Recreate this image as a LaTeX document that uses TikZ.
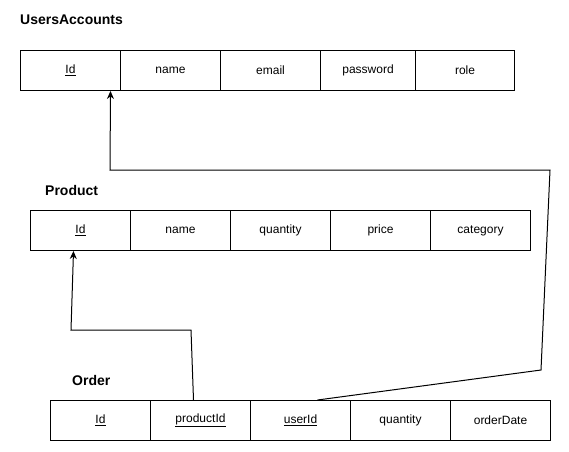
\documentclass[tikz,border=0pt]{standalone}
\usepackage{fontspec}
\setmainfont{Liberation Sans}
\usetikzlibrary{arrows.meta}
\begin{document}
\begin{tikzpicture}
[x=1pt,y=-1pt,
 cell/.style={draw,line width=1pt,minimum height=40pt,inner sep=0pt,
   font=\fontsize{12}{14}\selectfont},
 tabletitle/.style={anchor=west,inner sep=0pt,font=\fontsize{14}{16}\selectfont\bfseries},
 fk/.style={line width=1pt,-{Stealth[length=8pt,width=7pt]}}]
\useasboundingbox (0,0) rectangle (569,451);
\node[tabletitle] (uatitle) at (20,20) {UsersAccounts};
\node[tabletitle] (prtitle) at (45,190) {Product};
\node[tabletitle] (ortitle) at (72,380) {Order};
%% the three tables
\foreach \n/\x/\w/\txt in {1/20/100/\underline{Id}, 2/120/100/name, 3/220/100/email,
  4/320/95/password, 5/415/99/role}
{
  \node[cell,minimum width=\w pt,anchor=north west] (ua\n) at (\x,50) {\txt};
}
\foreach \n/\x/\txt in {1/30/\underline{Id}, 2/130/name, 3/230/quantity,
  4/330/price, 5/430/category}
{
  \node[cell,minimum width=100pt,anchor=north west] (pr\n) at (\x,210) {\txt};
}
\foreach \n/\x/\txt in {1/50/\underline{Id}, 2/150/\underline{productId},
  3/250/\underline{userId}, 4/350/quantity, 5/450/orderDate}
{
  \node[cell,minimum width=100pt,anchor=north west] (or\n) at (\x,400) {\txt};
}
%% foreign keys
\draw[fk] ([xshift=-7pt]or2.north) -- (191,330) -- (71,330) -- ([xshift=-7pt]pr1.south);
\draw[fk] ([xshift=17pt]or3.north) -- (541,370) -- (550,170) -- (110,170)
  -- ([xshift=40pt]ua1.south);
\end{tikzpicture}
\end{document}
